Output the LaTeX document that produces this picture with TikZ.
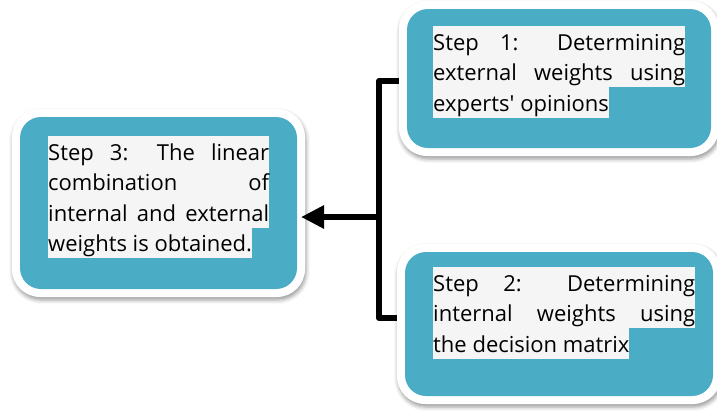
\documentclass[tikz,border=0pt]{standalone}
\usepackage{fontspec}
\newfontfamily\stepfont{Open Sans}
\usepackage{tikz}
\usetikzlibrary{arrows.meta, shadows.blur}
\definecolor{StepBlue}{RGB}{75, 172, 198}
\definecolor{MarkGray}{RGB}{245, 245, 245}
\newcommand\rowstrut{\rule[-6.5pt]{0pt}{30.5pt}}
\newcommand\stepsize{\stepfont\fontsize{22}{30.5}\selectfont}
\newlength\lastone
\newlength\lasttwo
\newlength\lastthree
\tikzset{
    stepbox/.style={fill=white, rounded corners=28pt, outer sep=0pt,
        blur shadow={shadow xshift=1pt, shadow yshift=-3pt, shadow blur radius=4pt, shadow opacity=40},
        path picture={\fill[StepBlue, rounded corners=21pt]
            ([shift={(8pt,8pt)}]path picture bounding box.south west) rectangle
            ([shift={(-8pt,-8pt)}]path picture bounding box.north east);}},
    steptext/.style={anchor=north west, inner sep=0pt, align=justify, font=\stepsize},
    textmark/.style={fill=MarkGray},
    link/.style={line width=6pt, line join=round}
}

\begin{document}
\settowidth{\lastone}{\stepsize experts\textquotesingle{} opinions}%
\settowidth{\lasttwo}{\stepsize the decision matrix}%
\settowidth{\lastthree}{\stepsize weights is obtained.}%
\begin{tikzpicture}[x=1pt, y=-1pt]
    \useasboundingbox (0,0) rectangle (717,410);

    % Paso 1
    \node[stepbox, minimum width=320pt, minimum height=155pt] (s1) at (559,78.5) {};
    \fill[textmark] (433,26) rectangle (685,87);
    \fill[textmark] (433,87) rectangle ++(\lastone,-30.5pt);
    \node[steptext, text width=252pt] (t1) at (433,26)
        {\rowstrut Step 1: Determining\linebreak external weights using\linebreak experts\textquotesingle{} opinions\rowstrut};

    % Paso 2
    \node[stepbox, minimum width=324pt, minimum height=160pt] (s2) at (559,324) {};
    \fill[textmark] (433,267) rectangle (695,328);
    \fill[textmark] (433,328) rectangle ++(\lasttwo,-30.5pt);
    \node[steptext, text width=262pt] (t2) at (433,267)
        {\rowstrut Step 2: Determining\linebreak internal weights using\linebreak the decision matrix\rowstrut};

    % Paso 3
    \node[stepbox, minimum width=293pt, minimum height=188pt] (s3) at (158.5,203) {};
    \fill[textmark] (48,136) rectangle (269,227.5);
    \fill[textmark] (48,227.5) rectangle ++(\lastthree,-30.5pt);
    \node[steptext, text width=221pt] (t3) at (48,136)
        {\rowstrut Step 3: The linear\linebreak combination of\linebreak internal and external\linebreak weights is obtained.\rowstrut};

    % Conexiones
    \coordinate (fork) at (379,217);
    \draw[link] ([yshift=-2.5pt]s1.west) -| (fork) |- ([yshift=6pt]s2.west);
    \draw[link, -{Triangle[length=23pt, width=22pt]}, shorten >=-4pt] (fork) -- (s3.east |- fork);
\end{tikzpicture}
\end{document}
